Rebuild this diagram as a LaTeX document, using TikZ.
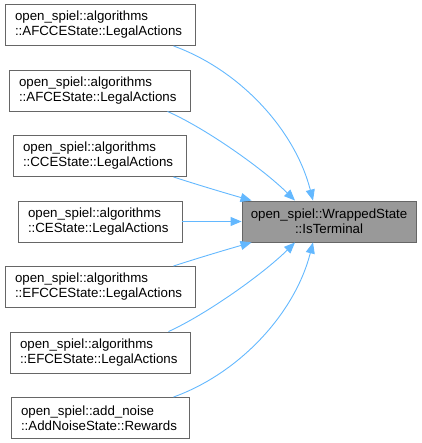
\documentclass[tikz,border=0pt]{standalone}
\usepackage{fontspec}
\setmainfont{Liberation Sans}
\usetikzlibrary{arrows.meta}
\definecolor{edgeblue}{HTML}{63B8FF}
\definecolor{boxborder}{HTML}{666666}
\definecolor{hlfill}{HTML}{999999}
\begin{document}
\begin{tikzpicture}[x=1pt,y=-1pt,
  box/.style={draw=boxborder, line width=0.9pt, fill=white, minimum height=41pt,
    inner xsep=10pt, inner ysep=0pt, align=left, font=\fontsize{13.3}{15}\selectfont},
  hlbox/.style={box, fill=hlfill, align=center},
  link/.style={draw=edgeblue, line width=0.9pt, -{Triangle[length=11pt,width=9pt]}}]
\useasboundingbox (0,0) rectangle (421,443);
\node[box, minimum width=190pt, text width=170pt] (n1) at (100,25) {open\_spiel::algorithms\\::AFCCEState::LegalActions};
\node[box, minimum width=181pt, text width=161pt] (n2) at (99.5,90.5) {open\_spiel::algorithms\\::AFCEState::LegalActions};
\node[box, minimum width=173pt, text width=153pt] (n3) at (99.5,156) {open\_spiel::algorithms\\::CCEState::LegalActions};
\node[box, minimum width=164pt, text width=144pt] (n4) at (100,221.5) {open\_spiel::algorithms\\::CEState::LegalActions};
\node[box, minimum width=190pt, text width=170pt] (n5) at (100,287) {open\_spiel::algorithms\\::EFCCEState::LegalActions};
\node[box, minimum width=180pt, text width=160pt] (n6) at (100,352.5) {open\_spiel::algorithms\\::EFCEState::LegalActions};
\node[box, minimum width=178pt, text width=158pt] (n7) at (100,418) {open\_spiel::add\_noise\\::AddNoiseState::Rewards};
\node[hlbox, minimum width=174pt, text width=160pt, inner xsep=7pt] (c) at (329,221.5) {open\_spiel::WrappedState\\::IsTerminal};
\draw[link] ([xshift=-22pt]n1.south east) .. controls (240,70) and (295,130) .. ([xshift=-16pt]c.north);
\draw[link] ([xshift=-23pt]n2.south east) .. controls (205,128) and (262,168) .. ([xshift=-34pt]c.north);
\draw[link] ([xshift=-13pt]n3.south east) .. controls (195,184) and (225,193) .. ([xshift=10pt]c.north west);
\draw[link] (n4.east) -- (c.west);
\draw[link] ([xshift=-22pt]n5.north east) .. controls (195,259) and (225,250) .. ([xshift=10pt]c.south west);
\draw[link] ([xshift=-22pt]n6.north east) .. controls (205,315) and (262,275) .. ([xshift=-34pt]c.south);
\draw[link] ([xshift=-16pt]n7.north east) .. controls (240,373) and (295,313) .. ([xshift=-16pt]c.south);
\end{tikzpicture}
\end{document}
